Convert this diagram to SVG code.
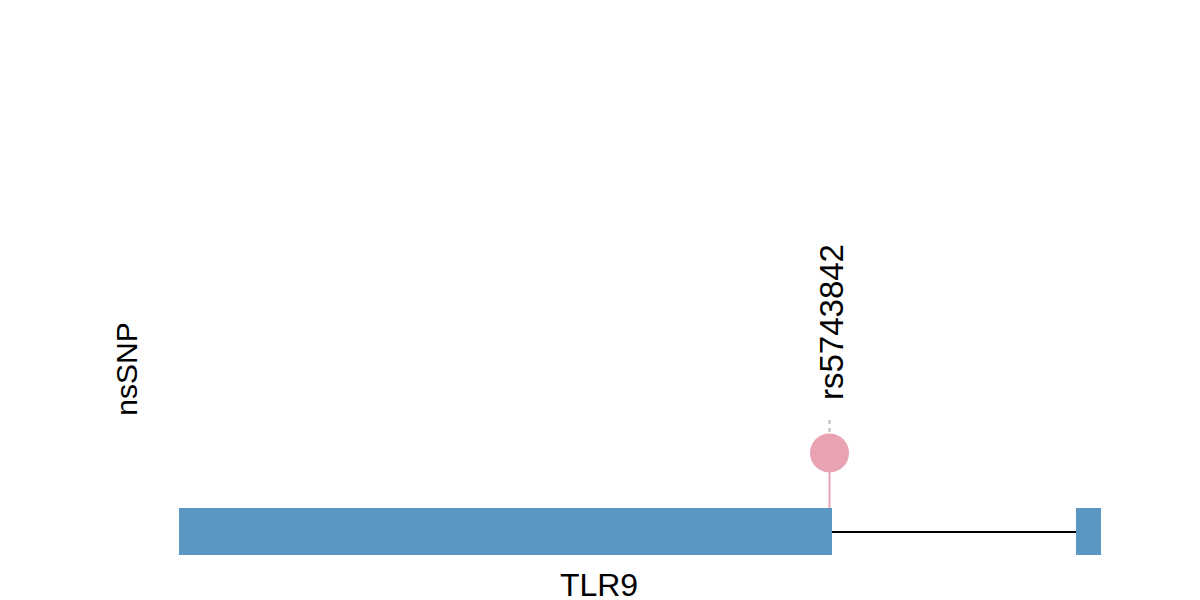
<svg xmlns="http://www.w3.org/2000/svg" width="1200" height="600" viewBox="0 0 1200 600">
<style>
.t{font-family:"Liberation Sans",Arial,sans-serif;fill:#000}
.exon{fill:#5b97c3}
</style>
<rect width="1200" height="600" fill="#fff"/>
<g id="connectors">
<line x1="831" y1="532" x2="1076" y2="532" stroke="#000" stroke-width="2"/>
<line x1="829.5" y1="533" x2="829.5" y2="470" stroke="#e8a0b2" stroke-width="2"/>
<line x1="829.5" y1="420" x2="829.5" y2="433" stroke="#bbbbbb" stroke-width="2" stroke-dasharray="4,4"/>
</g>
<g id="exon1"><rect class="exon" x="179" y="508" width="653" height="47"/></g>
<g id="exon2"><rect class="exon" x="1076" y="508" width="25" height="47"/></g>
<g id="snp"><circle cx="829.5" cy="453" r="19.5" fill="#e8a2b1"/></g>
<g id="labels">
<text class="t" x="599" y="596" font-size="32" text-anchor="middle">TLR9</text>
<text class="t" font-size="30" text-anchor="middle" transform="translate(137,369) rotate(-90)">nsSNP</text>
<text class="t" font-size="33" text-anchor="start" transform="translate(843,400) rotate(-90)">rs5743842</text>
</g>
</svg>
